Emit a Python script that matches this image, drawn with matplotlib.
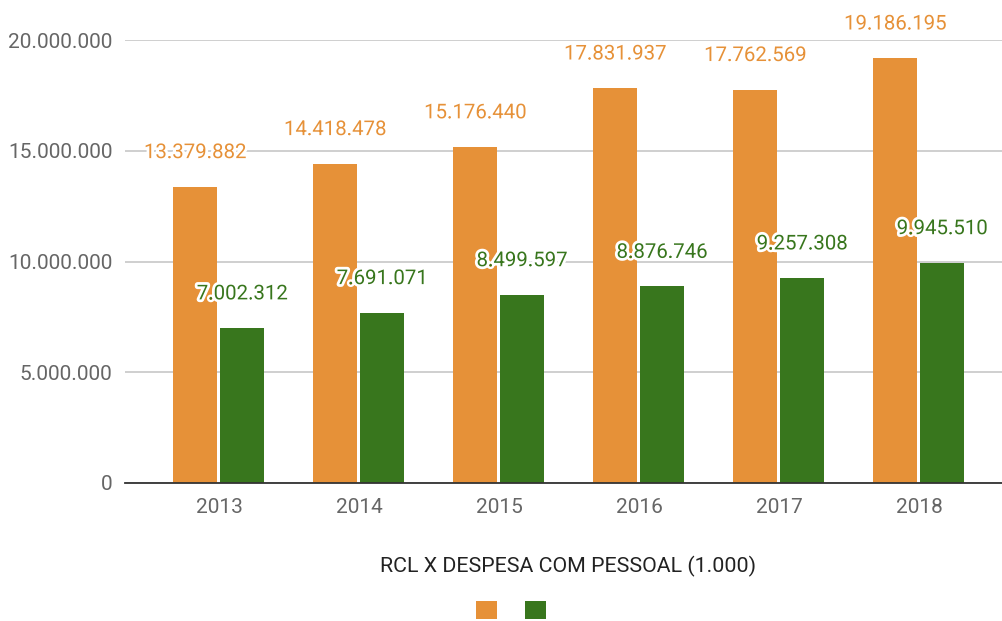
import matplotlib.pyplot as plt
import matplotlib.patheffects as pe
from matplotlib.patches import Patch
import numpy as np

anos = ['2013', '2014', '2015', '2016', '2017', '2018']
rcl = [13379882, 14418478, 15176440, 17831937, 17762569, 19186195]
despesa = [7002312, 7691071, 8499597, 8876746, 9257308, 9945510]
titulo = 'RCL X DESPESA COM PESSOAL (1.000)'

laranja = '#E69138'
verde = '#38761D'

plt.rcParams['font.family'] = ['Roboto', 'DejaVu Sans']


def fmt(v):
    return f'{v:,.0f}'.replace(',', '.')


fig = plt.figure(figsize=(10.02, 6.21), dpi=100)
ax = fig.add_axes([125 / 1002, 138 / 621, 877 / 1002, 443 / 621])

x = np.arange(len(anos))
w = 0.314
ax.bar(x - 0.171, rcl, w, color=laranja, zorder=3)
ax.bar(x + 0.164, despesa, w, color=verde, zorder=3)

contorno = [pe.withStroke(linewidth=4, foreground='white')]
for xi, v in zip(x, rcl):
    ax.annotate(fmt(v), (xi - 0.171, v), xytext=(0, 24.5), textcoords='offset points',
                ha='center', va='center', fontsize=14.7, color=laranja,
                path_effects=contorno, zorder=5)
for xi, v in zip(x, despesa):
    ax.annotate(fmt(v), (xi + 0.164, v), xytext=(0, 24.5), textcoords='offset points',
                ha='center', va='center', fontsize=14.7, color=verde,
                path_effects=contorno, zorder=5)

ax.set_xlim(-0.671, 5.593)
ax.set_ylim(0, 20000000)
ax.set_yticks([0, 5000000, 10000000, 15000000, 20000000])
ax.set_yticklabels([fmt(t) for t in ax.get_yticks()])
ax.set_xticks(x)
ax.set_xticklabels(anos)
ax.tick_params(axis='both', length=0, labelsize=15, colors='#666666')
ax.tick_params(axis='y', pad=9)
ax.tick_params(axis='x', pad=10.5)
ax.grid(axis='y', color='#cccccc', linewidth=1.3, zorder=0)
for s in ['top', 'right', 'left']:
    ax.spines[s].set_visible(False)
ax.spines['bottom'].set_color('#333333')
ax.spines['bottom'].set_linewidth(1.3)
ax.spines['bottom'].set_zorder(4)

fig.text(568 / 1002, 1 - 566 / 621, titulo, ha='center', va='center',
         fontsize=15.4, color='#222222')

handles = [Patch(facecolor=laranja), Patch(facecolor=verde)]
fig.legend(handles, ['', ''], loc='center', bbox_to_anchor=(511 / 1002, 1 - 611 / 621),
           ncol=2, frameon=False, handlelength=1.15, handleheight=1.15,
           handletextpad=0, columnspacing=1.6, fontsize=13)

fig.savefig('out.png', dpi=100)
